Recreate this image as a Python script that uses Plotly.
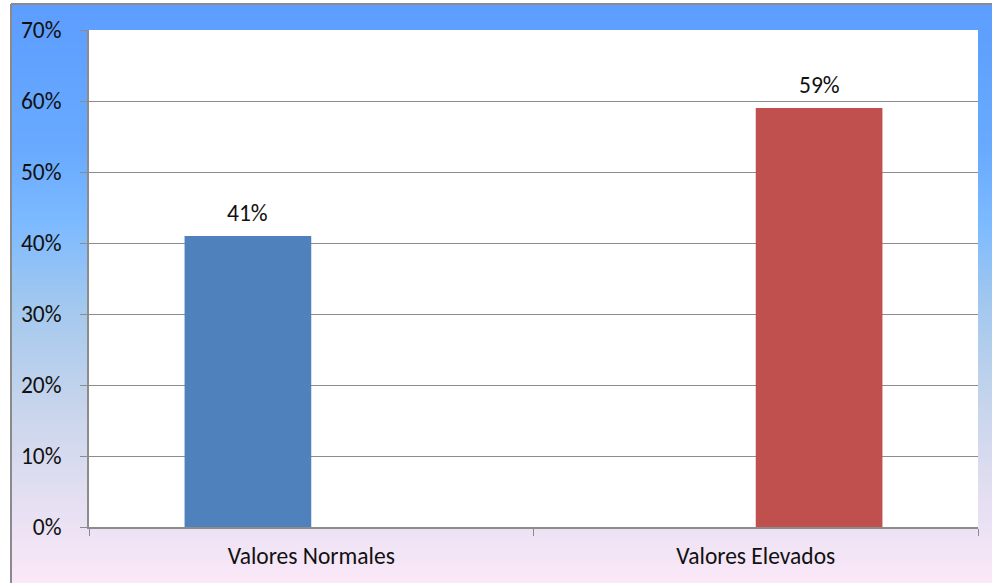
import base64, struct, zlib
import plotly.graph_objects as go

# ---- data ----
categories = ["Valores Normales", "Valores Elevados"]
normales = [0.41, None]
elevados = [None, 0.59]
bar_labels = ["41%", "59%"]
y_ticks = [0, 0.1, 0.2, 0.3, 0.4, 0.5, 0.6, 0.7]

# ---- gradient background png ----
stops = [(0.0, (92, 157, 255)), (0.25, (105, 170, 255)), (0.38, (125, 186, 255)),
         (0.52, (163, 200, 238)), (0.70, (200, 213, 236)), (0.82, (222, 221, 240)),
         (1.0, (251, 232, 248))]
H = 580
rows = b""
for i in range(H):
    t = i / (H - 1)
    for j in range(len(stops) - 1):
        if stops[j][0] <= t <= stops[j + 1][0]:
            a, ca = stops[j]; b, cb = stops[j + 1]
            f = (t - a) / (b - a)
            c = tuple(int(round(ca[k] + (cb[k] - ca[k]) * f)) for k in range(3))
            break
    rows += b"\x00" + bytes(c)
def chunk(tag, data):
    return struct.pack(">I", len(data)) + tag + data + struct.pack(">I", zlib.crc32(tag + data) & 0xffffffff)
png = b"\x89PNG\r\n\x1a\n" + chunk(b"IHDR", struct.pack(">IIBBBBB", 1, H, 8, 2, 0, 0, 0)) \
      + chunk(b"IDAT", zlib.compress(rows)) + chunk(b"IEND", b"")
uri = "data:image/png;base64," + base64.b64encode(png).decode()

W, HT = 992, 583
L, R, T, B = 89, 14, 30, 56
pw, ph = W - L - R, HT - T - B
def px(x): return (x - L) / pw
def py(y): return (HT - B - y) / ph

font = dict(family="Carlito, Calibri, 'Noto Sans', sans-serif", size=23.5, color="#111111")

fig = go.Figure()
fig.add_trace(go.Bar(x=categories, y=normales, name="Valores Normales", marker_color="#4F81BD",
                     marker_line_width=0, offsetgroup="a"))
fig.add_trace(go.Bar(x=categories, y=elevados, name="Valores Elevados", marker_color="#C0504D",
                     marker_line_width=0, offsetgroup="b"))

annotations = []
series = [normales, elevados]
for si, vals in enumerate(series):
    for ci, v in enumerate(vals):
        if v is None:
            continue
        annotations.append(dict(x=ci, y=v, xref="x", yref="y", text=bar_labels[ci], showarrow=False,
                                yanchor="bottom", yshift=7, xshift=(-64 if si == 0 else 64),
                                font=font))

fig.update_layout(
    width=W, height=HT, margin=dict(l=L, r=R, t=T, b=B),
    paper_bgcolor="white", plot_bgcolor="white", showlegend=False,
    barmode="group", bargap=0.43, bargroupgap=0,
    font=font, annotations=annotations,
    images=[dict(source=uri, xref="paper", yref="paper", x=px(11), y=py(4),
                 sizex=px(992) - px(11), sizey=py(4) - py(583), sizing="stretch",
                 xanchor="left", yanchor="top", layer="below")],
    shapes=[
        dict(type="rect", xref="paper", yref="paper", x0=0, x1=1, y0=0, y1=1,
             fillcolor="white", line_width=0, layer="below"),
        dict(type="line", xref="paper", yref="paper", x0=px(11), x1=px(992), y0=py(4), y1=py(4),
             line=dict(color="#8a8a8a", width=2)),
        dict(type="line", xref="paper", yref="paper", x0=px(11), x1=px(11), y0=py(4), y1=py(583),
             line=dict(color="#8a8a8a", width=2)),
    ],
    xaxis=dict(type="category", tickson="boundaries", ticks="outside", ticklen=7, tickcolor="#8c8c8c",
               showline=True, linecolor="#8c8c8c", linewidth=2, showgrid=False,
               ticklabelstandoff=7, tickfont=font),
    yaxis=dict(range=[0, 0.7], tickvals=y_ticks, tickformat=".0%", ticks="outside", ticklen=7,
               tickcolor="#8c8c8c", showline=True, linecolor="#8c8c8c", linewidth=1.5,
               showgrid=True, gridcolor="#8c8c8c", gridwidth=1, zeroline=False,
               ticklabelstandoff=14, tickfont=font),
)
fig.write_html("out.html", config={"displayModeBar": False},
               post_script="document.body.style.margin='0';document.body.style.padding='0';")
